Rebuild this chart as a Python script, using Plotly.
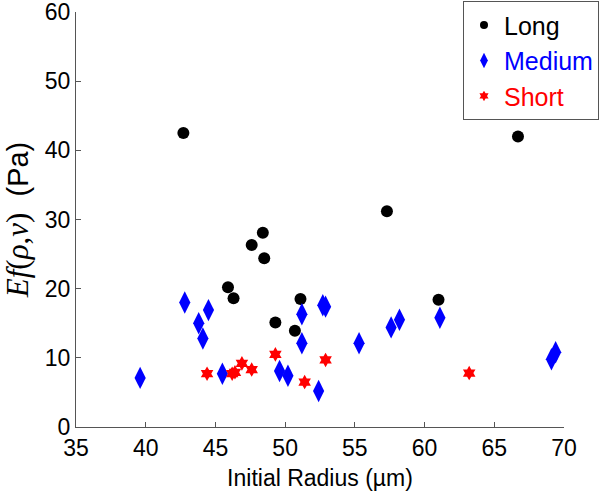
import plotly.graph_objects as go

long_x = [42.7, 47.6, 48.4, 48.5, 45.9, 46.3, 51.1, 49.3, 50.7, 57.3, 61.0, 66.7]
long_y = [42.5, 26.3, 28.1, 24.4, 20.2, 18.6, 18.5, 15.1, 13.9, 31.2, 18.4, 42.0]

medium_x = [39.6, 42.8, 43.8, 44.1, 44.5, 45.5, 49.6, 50.2, 51.2, 51.2, 52.4, 52.7, 52.9,
            55.3, 57.6, 58.2, 61.1, 69.1, 69.4]
medium_y = [7.1, 18.0, 15.0, 12.8, 16.9, 7.7, 8.1, 7.4, 16.3, 12.1, 5.2, 17.6, 17.4,
            12.1, 14.4, 15.5, 15.8, 9.8, 10.8]

short_x = [44.4, 46.2, 46.4, 46.9, 47.6, 49.3, 51.4, 52.9, 63.2]
short_y = [7.7, 7.7, 7.9, 9.2, 8.3, 10.5, 6.5, 9.7, 7.8]

x_ticks = [35, 40, 45, 50, 55, 60, 65, 70]
y_ticks = [0, 10, 20, 30, 40, 50, 60]

series = [
    ("Long", long_x, long_y, "circle", 12, 8, "black"),
    ("Medium", medium_x, medium_y, "diamond-tall", 16, 11, "blue"),
    ("Short", short_x, short_y, "hexagram", 11, 8, "red"),
]

fig = go.Figure()
for name, xs, ys, sym, size, lsize, color in series:
    fig.add_trace(go.Scatter(x=xs, y=ys, mode="markers", showlegend=False,
                             legendgroup=name,
                             marker=dict(symbol=sym, size=size, color=color)))
    # legend entry (smaller symbol, coloured text as in the reference)
    fig.add_trace(go.Scatter(x=[None], y=[None], mode="markers", legendgroup=name,
                             name=f"<span style='color:{color}'>{name}</span>",
                             marker=dict(symbol=sym, size=lsize, color=color)))

axis_common = dict(showgrid=False, zeroline=False, showline=True, linecolor="#555555",
                   linewidth=1, ticks="inside", ticklen=5, tickcolor="#555555",
                   tickfont=dict(family="Liberation Sans, Arial", size=23, color="black"),
                   mirror=False, automargin=False, ticklabeloverflow="allow")

fig.update_layout(
    width=600, height=494,
    margin=dict(l=76, r=36, t=12, b=67, autoexpand=False),
    plot_bgcolor="white", paper_bgcolor="white",
    font=dict(family="Liberation Sans, Arial", color="black"),
    xaxis=dict(range=[35, 70], tickvals=x_ticks, **axis_common,
               title=dict(text="Initial Radius (µm)", standoff=10,
                          font=dict(size=23, family="Liberation Sans, Arial"))),
    yaxis=dict(range=[0, 60], tickvals=y_ticks, **axis_common,
               title=dict(text="<span style='font-family:Liberation Serif, Times New Roman;font-size:31px'><i>Ef</i>(<i>ρ</i>,<i>ν</i>)</span>&nbsp;&nbsp;(Pa)",
                          standoff=19,
                          font=dict(size=29, family="Liberation Sans, Arial"))),
    legend=dict(x=(599 - 76) / 488, y=1.026, xanchor="right", yanchor="top",
                bordercolor="#555555", borderwidth=1, bgcolor="white",
                font=dict(size=25, family="Liberation Sans, Arial"),
                itemwidth=30, tracegroupgap=0),
    showlegend=True,
)

fig.write_html("out.html", config={"displayModeBar": False},
               post_script="document.body.style.margin='0';")
